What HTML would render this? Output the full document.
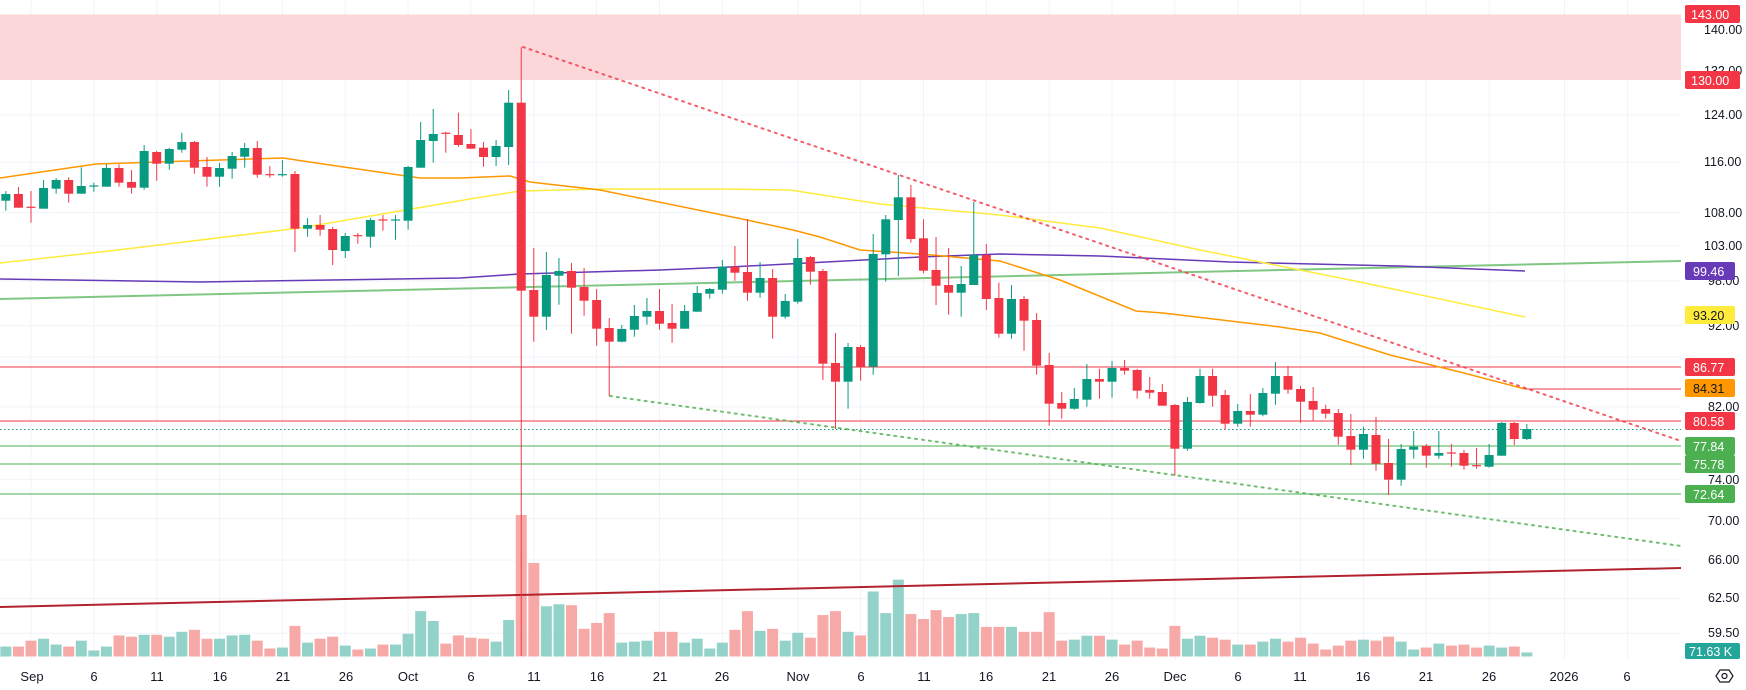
<!DOCTYPE html>
<html><head><meta charset="utf-8">
<style>
html,body{margin:0;padding:0;background:#fff;}
svg{display:block;}
text{font-family:"Liberation Sans",sans-serif;}
</style></head>
<body>
<svg id="c" width="1746" height="690" viewBox="0 0 1746 690" xmlns="http://www.w3.org/2000/svg">
<g id="grid"></g>
<rect x="0" y="14.5" width="1681" height="65.5" fill="#fcd7da"/>
<g id="vol"></g>
<line x1="0" y1="607" x2="1681" y2="568" stroke="#b2222f" stroke-width="2"/>
<line x1="0" y1="367" x2="1681" y2="367" stroke="#f23645" stroke-width="1"/>
<line x1="1525" y1="389" x2="1681" y2="389" stroke="#f23645" stroke-width="1"/>
<line x1="0" y1="421" x2="1681" y2="421" stroke="#f23645" stroke-width="1"/>
<line x1="0" y1="429.5" x2="1681" y2="429.5" stroke="#089981" stroke-width="1" stroke-dasharray="1.5 2.5"/>
<line x1="0" y1="446" x2="1681" y2="446" stroke="#4caf50" stroke-width="1"/>
<line x1="0" y1="464" x2="1681" y2="464" stroke="#4caf50" stroke-width="1"/>
<line x1="0" y1="494" x2="1681" y2="494" stroke="#4caf50" stroke-width="1"/>
<line x1="0" y1="299" x2="1681" y2="261" stroke="#81c784" stroke-width="2"/>
<polyline fill="none" stroke="#673ab7" stroke-width="1.5" points="0,279 200,282 460,278 520,274 660,270 730,267 920,257 1000,254 1100,256 1230,262 1400,266 1525,271"/>
<polyline fill="none" stroke="#ffeb3b" stroke-width="1.5" points="0,263 118,250 300,228 470,199 520,191 600,189 720,189 790,190 880,204 1000,215 1100,228 1200,250 1360,282 1525,317"/>
<polyline fill="none" stroke="#ff9800" stroke-width="1.5" points="0,178 96,164 283,158 330,165 420,178 460,178 510,176 530,182 600,190 747,220 793,230 820,237 860,250 920,254 1000,261 1060,280 1136,311 1163,313 1280,327 1320,333 1390,355 1460,372 1525,389"/>
<line x1="523" y1="47" x2="1681" y2="441" stroke="#f23645" stroke-width="2" stroke-dasharray="2 5" stroke-linecap="round" opacity="0.8"/>
<line x1="610" y1="396" x2="1681" y2="546" stroke="#4caf50" stroke-width="2" stroke-dasharray="2 5" stroke-linecap="round" opacity="0.8"/>
<g id="cand"></g>
<g font-size="12.5" fill="#131722">
<text x="1704" y="34">140.00</text>
<text x="1704" y="75">132.00</text>
<text x="1704" y="119">124.00</text>
<text x="1704" y="166">116.00</text>
<text x="1704" y="217">108.00</text>
<text x="1704" y="250">103.00</text>
<text x="1708" y="285">98.00</text>
<text x="1708" y="330">92.00</text>
<text x="1708" y="411">82.00</text>
<text x="1708" y="484">74.00</text>
<text x="1708" y="525">70.00</text>
<text x="1708" y="564">66.00</text>
<text x="1708" y="602">62.50</text>
<text x="1708" y="637">59.50</text>
</g>
<g font-size="12.5">
<rect x="1685" y="5" width="55" height="18" rx="2" fill="#f23645"/><text x="1691" y="19" fill="#fff">143.00</text>
<rect x="1685" y="71" width="55" height="18" rx="2" fill="#f23645"/><text x="1691" y="85" fill="#fff">130.00</text>
<rect x="1685" y="262" width="50" height="18" rx="2" fill="#673ab7"/><text x="1693" y="276" fill="#fff">99.46</text>
<rect x="1685" y="306" width="50" height="18" rx="2" fill="#ffeb3b"/><text x="1693" y="320" fill="#131722">93.20</text>
<rect x="1685" y="358" width="50" height="18" rx="2" fill="#f23645"/><text x="1693" y="372" fill="#fff">86.77</text>
<rect x="1685" y="379" width="50" height="18" rx="2" fill="#ff9800"/><text x="1693" y="393" fill="#131722">84.31</text>
<rect x="1685" y="412" width="50" height="18" rx="2" fill="#f23645"/><text x="1693" y="426" fill="#fff">80.58</text>
<rect x="1685" y="437" width="50" height="18" rx="2" fill="#4caf50"/><text x="1693" y="451" fill="#fff">77.84</text>
<rect x="1685" y="455" width="50" height="18" rx="2" fill="#4caf50"/><text x="1693" y="469" fill="#fff">75.78</text>
<rect x="1685" y="485" width="50" height="18" rx="2" fill="#4caf50"/><text x="1693" y="499" fill="#fff">72.64</text>
<rect x="1685" y="643" width="55" height="16" rx="2" fill="#26a69a"/><text x="1689" y="656" fill="#fff">71.63 K</text>
</g>
<g fill="none" stroke="#131722" stroke-width="1.2"><polygon points="1716,676 1720,670 1729,670 1733,676 1729,682 1720,682"/><circle cx="1724.5" cy="676" r="2.5"/></g>
<g id="dates" font-size="13" fill="#131722" text-anchor="middle">
<text x="32" y="681">Sep</text><text x="94" y="681">6</text><text x="157" y="681">11</text><text x="220" y="681">16</text><text x="283" y="681">21</text><text x="346" y="681">26</text><text x="408" y="681">Oct</text><text x="471" y="681">6</text><text x="534" y="681">11</text><text x="597" y="681">16</text><text x="660" y="681">21</text><text x="722" y="681">26</text><text x="798" y="681">Nov</text><text x="861" y="681">6</text><text x="924" y="681">11</text><text x="986" y="681">16</text><text x="1049" y="681">21</text><text x="1112" y="681">26</text><text x="1175" y="681">Dec</text><text x="1238" y="681">6</text><text x="1300" y="681">11</text><text x="1363" y="681">16</text><text x="1426" y="681">21</text><text x="1489" y="681">26</text><text x="1564" y="681">2026</text><text x="1627" y="681">6</text>
</g>
</svg>
<script>
(function(){
var NS="http://www.w3.org/2000/svg";
function X(d){return 31+12.57*d;}
function el(p,t,a){var e=document.createElementNS(NS,t);for(var k in a)e.setAttribute(k,a[k]);p.appendChild(e);return e;}
var g=document.getElementById("grid");
[0,5,10,15,20,25,30,35,40,45,50,55,61,66,71,76,81,86,91,96,101,106,111,116,122,127].forEach(function(d){el(g,"line",{x1:X(d),y1:0,x2:X(d),y2:660,stroke:"#f0f3fa","stroke-width":1});});
[140,132,124,116,108,103,98,92,88,82,74,70,66,62.5,59.5].forEach(function(p){var y=3518-706*Math.log(p);el(g,"line",{x1:0,y1:y,x2:1681,y2:y,stroke:"#f0f3fa","stroke-width":1});});
// candles: [d, color, bodyTop, bodyBot, wickTop, wickBot]
var C=[
[-2,'G',194,200.7,191,210.7],[-1,'R',194,207.7,187,207.7],[0,'R',207.3,207.3,191,222.7],[1,'G',188,208.7,180,208.7],[2,'G',180,188.7,178,193.7],[3,'R',180,193.7,177.3,202.7],[4,'G',186,193.7,167.3,193.7],[5,'G',186,186,182.7,191.7],[6,'G',168,186.7,164.3,186.7],[7,'R',168,182.7,164.3,186.7],[8,'R',182,187.7,170,193.7],[9,'G',151,187.7,145,189.7],[10,'R',152,163.7,151,180.7],[11,'G',149,163.7,148,169.7],[12,'G',142,149.7,132.7,152.7],[13,'R',142,167.7,141,173.7],[14,'R',167,176.7,157,186.7],[15,'G',168,176.7,163,186.7],[16,'G',156,168.7,152,178.7],[17,'G',148,156.7,143,167.7],[18,'R',148,174.7,141,177.7],[19,'R',174.7,174.7,166,177.7],[20,'G',174.7,174.7,160,176.7],[21,'R',174,228.7,171,252],[22,'G',225,228.7,218,236.7],[23,'R',225,229.7,215,235.7],[24,'R',229,250,227,265],[25,'G',236,251,233,258],[26,'R',235.7,235.7,233,243.7],[27,'G',220,236.7,218,247.7],[28,'R',220,220,215,230.7],[29,'G',220,220,215,239.7],[30,'G',167,220.7,166,229.7],[31,'G',140,167.7,122,167.7],[32,'G',134,141,109,162.7],[33,'R',133.3,133.3,131.7,152.7],[34,'R',135,145,112.7,146.7],[35,'R',144,148.7,129,148.7],[36,'R',147.7,157,142,166.7],[37,'G',146,157,140,166],[38,'G',102.7,147,90,165],[39,'R',102.7,290.7,47.3,656],
[40,'R',290,316.7,248,341.7],[41,'G',275,316.7,252,330],[42,'G',271,275.7,258,304.7],[43,'R',271,287.7,263,333.7],[44,'R',287,300.7,268,315.7],[45,'R',300,328.7,289,345.7],[46,'R',328,341.7,318,396],[47,'G',329,341.7,325,342.3],[48,'G',316,329.7,305,336.7],[49,'G',311,316.7,298,324.7],[50,'R',311,323.7,289,329.7],[51,'R',323,328.7,304,342.7],[52,'G',311,328.7,305,328.7],[53,'G',293,311.7,286,311.7],[54,'G',289,293.7,288,298.7],[55,'G',266.7,289.7,260,293.7],[56,'R',266.7,272.7,246,280.7],[57,'R',272,292.7,219,300.7],[58,'G',278,292.7,262,297.7],[59,'R',278,316.7,269,338.7],[60,'G',301,316.7,294,318.7],[61,'G',258,301.7,239,303.7],[62,'R',257,271.7,256,284.7],[63,'R',271,363.7,269,380],[64,'R',363,381.7,333,429],[65,'G',347,381.7,343,408.7],[66,'R',347,366.7,345,380.7],[67,'G',254,366.7,234,374.7],[68,'G',219.3,254.3,215,281.7],[69,'G',197.3,220,175,276],[70,'R',197.3,239,185,242.7],[71,'R',238.3,270.7,219.3,273.3],[72,'R',270,285.7,237,305],[73,'R',285,292.7,248,314.7],[74,'G',284,292.7,266,316.7],[75,'G',255,285,202,285],[76,'R',255,299,244,310],[77,'R',298,333.7,282.7,337.7],
[78,'G',299,333.7,285,338.7],[79,'R',299,320.7,296,350.7],[80,'R',320,365.7,313,374.7],[81,'R',365,403.7,353,425.7],[82,'R',403,408.7,392,418.7],[83,'G',399,408.7,388,409.7],[84,'G',379,399.7,364,406.7],[85,'R',379,381.7,368.7,398.7],[86,'G',368,381.7,361,397.7],[87,'R',368,370.7,360,374.7],[88,'R',370,390.7,368.7,398.7],[89,'R',390,392.7,377,398.7],[90,'R',392,405.7,384,405.7],[91,'R',405,448.7,404,475.7],[92,'G',402,448.7,397,450.7],[93,'G',376,403,368.7,403.7],[94,'R',376,395.7,368.7,406.7],[95,'R',395,423.7,390,429.7],[96,'G',411,423.7,404,426.7],[97,'R',411,414.7,394,426.7],[98,'G',393,414.7,388,416.3],[99,'G',376,393.7,362,404.7],[100,'R',376,389.7,366,393.7],[101,'R',389,401.7,386,422.7],[102,'R',401,409.7,387,420.7],[103,'R',409,413.7,404.7,418.7],[104,'R',413,436.7,409,444.7],[105,'R',436,449.7,414,465],[106,'G',434,449.7,426.7,458.7],[107,'R',435,463.7,417,470.7],[108,'R',463,479.7,439,495],[109,'G',449,479.7,444,485.7],[110,'G',446.7,449.7,431,458.7],[111,'R',446,455.7,444,467.7],[112,'G',453,455.7,431,458.7],[113,'R',453,453,444,466.7],[114,'R',453,465.7,450,469.7],[115,'R',465.7,465.7,448,468.7],[116,'G',455,466.7,444,467.7],[117,'G',423,455.7,422,455.7],[118,'R',423,439,422,445],[119,'G',429,439,424,440]];
// volumes: zoom y tops
var V1=[[447,'G'],[447,'R'],[429,'R'],[423,'G'],[441,'G'],[447,'R'],[429,'G'],[459,'G'],[447,'G'],[413,'R'],[417,'R'],[411,'G'],[411,'R'],[417,'G'],[402,'G'],[396,'R'],[423,'R'],[423,'G'],[413,'G'],[411,'G'],[429,'R'],[453,'R'],[450,'G'],[384,'R'],[435,'G'],[423,'R'],[417,'R'],[444,'G'],[456,'R'],[453,'G'],[441,'R'],[441,'G'],[408,'G'],[339,'G'],[369,'G'],[438,'R'],[413,'R'],[420,'R'],[423,'R'],[432,'G'],[366,'G'],[47,'R'],[192,'R'],[324,'G'],[318,'G'],[321,'R'],[393,'R'],[375,'R'],[345,'R'],[435,'G'],[432,'G'],[429,'G'],[402,'R'],[402,'R'],[435,'G'],[423,'G'],[453,'G'],[435,'G'],[396,'R'],[339,'R'],[399,'G'],[393,'R']];
var V2=[[429,'G'],[405,'G'],[420,'R'],[351,'R'],[339,'R'],[402,'G'],[413,'R'],[279,'G'],[345,'G'],[243,'G'],[348,'R'],[363,'R'],[336,'R'],[357,'R'],[348,'G'],[345,'G'],[387,'R'],[387,'R'],[387,'G'],[402,'R'],[402,'R'],[342,'R'],[429,'R'],[426,'G'],[414,'G'],[414,'R'],[426,'G'],[441,'R'],[429,'R'],[450,'R'],[453,'R'],[384,'R'],[423,'G'],[414,'G'],[420,'R'],[426,'R'],[441,'G'],[441,'R'],[432,'G'],[423,'G'],[432,'R'],[420,'R'],[438,'R'],[456,'R'],[444,'R'],[429,'R'],[426,'G'],[429,'R'],[417,'R'],[432,'G'],[456,'G'],[450,'R'],[438,'G'],[444,'R'],[441,'R'],[450,'R'],[444,'G'],[450,'G'],[447,'R'],[465,'G']];
var vg=document.getElementById("vol");
function vbar(d,zy,c,top){var y=top!==undefined?top:500+zy/3.05;var base=656.5;el(vg,"rect",{x:X(d)-5.5,y:y,width:11,height:Math.max(1,base-y),fill:c=='G'?"#92d2c9":"#f7a9a7"});}
V1.forEach(function(v,i){var d=i-2;if(d==39)vbar(d,0,'R',515);else vbar(d,v[0],v[1]);});
V2.forEach(function(v,i){vbar(60+i,v[0],v[1]);});
var cg=document.getElementById("cand");
C.forEach(function(c){var x=X(c[0]);var col=c[1]=='G'?"#089981":"#f23645";
el(cg,"line",{x1:x,y1:c[4],x2:x,y2:c[5],stroke:col,"stroke-width":1});
var h=Math.max(1.2,c[3]-c[2]);el(cg,"rect",{x:x-4.5,y:c[2]-(c[3]-c[2]<1.2?0.6:0),width:9,height:h,fill:col});});
})();
</script>
</body></html>
